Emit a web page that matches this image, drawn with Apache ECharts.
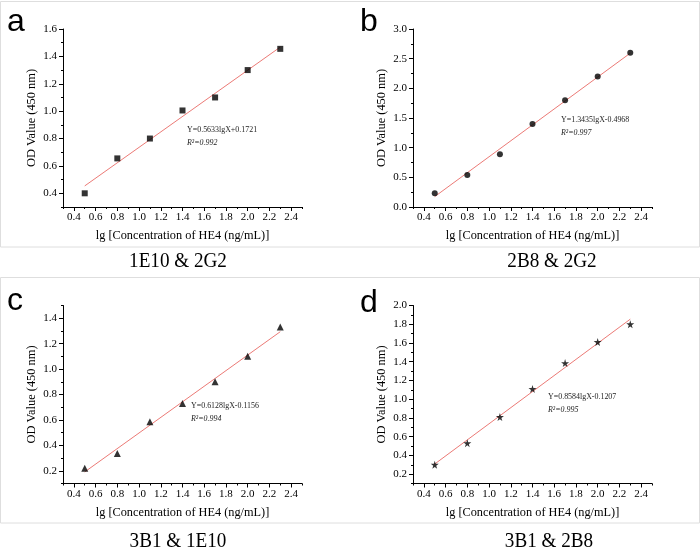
<!DOCTYPE html>
<html><head><meta charset="utf-8">
<script src="https://cdn.jsdelivr.net/npm/echarts@6/dist/echarts.min.js"></script>
<style>html,body{margin:0;padding:0;background:#fff}#c{width:700px;height:550px}</style>
</head><body><div id="c"></div>
<script>
// ---- data ----
const xValues = [0.5, 0.8, 1.1, 1.4, 1.7, 2.0, 2.3];
const odA = [0.40, 0.655, 0.80, 1.005, 1.10, 1.30, 1.455];
const odB = [0.23, 0.54, 0.89, 1.40, 1.80, 2.20, 2.60];
const odC = [0.22, 0.335, 0.585, 0.73, 0.90, 1.10, 1.33];
const odD = [0.30, 0.53, 0.81, 1.11, 1.385, 1.61, 1.80];
const fitX = [0.5, 2.3];
const fitA = [0.454, 1.468];
const fitB = [0.175, 2.593];
const fitC = [0.191, 1.294];
const fitD = [0.308, 1.854];
const xTicks = [0.4, 0.6, 0.8, 1.0, 1.2, 1.4, 1.6, 1.8, 2.0, 2.2, 2.4];
const xMinorTicks = [0.3, 0.5, 0.7, 0.9, 1.1, 1.3, 1.5, 1.7, 1.9, 2.1, 2.3, 2.5];
const yTicksA = [0.4, 0.6, 0.8, 1.0, 1.2, 1.4, 1.6];
const yMinorA = [0.3, 0.5, 0.7, 0.9, 1.1, 1.3, 1.5];
const yTicksB = [0.0, 0.5, 1.0, 1.5, 2.0, 2.5, 3.0];
const yMinorB = [0.25, 0.75, 1.25, 1.75, 2.25, 2.75];
const yTicksC = [0.2, 0.4, 0.6, 0.8, 1.0, 1.2, 1.4];
const yMinorC = [0.1, 0.3, 0.5, 0.7, 0.9, 1.1, 1.3, 1.5];
const yTicksD = [0.2, 0.4, 0.6, 0.8, 1.0, 1.2, 1.4, 1.6, 1.8, 2.0];
const yMinorD = [0.1, 0.3, 0.5, 0.7, 0.9, 1.1, 1.3, 1.5, 1.7, 1.9];
const letters = ['a', 'b', 'c', 'd'];
const captions = ['1E10 & 2G2', '2B8 & 2G2', '3B1 & 1E10', '3B1 & 2B8'];
const equations = ['Y=0.5633lgX+0.1721', 'Y=1.3435lgX-0.4968', 'Y=0.6128lgX-0.1156', 'Y=0.8584lgX-0.1207'];
const r2Values = ['0.992', '0.997', '0.994', '0.995'];
const xName = 'lg [Concentration of HE4 (ng/mL)]';
const yName = 'OD Value (450 nm)';

// ---- layout / style ----
const SERIF = "'Liberation Serif', 'Times New Roman', serif";
const SANS = "'Liberation Sans', Arial, sans-serif";
const STAR = 'path://M50,0 L61,35 L98,35 L68,57 L79,91 L50,70 L21,91 L32,57 L2,35 L39,35 Z';
const panels = [
  { od: odA, fit: fitA, yMin: 0.3, yMax: 1.6, yT: yTicksA, yM: yMinorA, sym: 'rect', size: 6, rect: { left: 63, top: 29, width: 239, height: 178 }, eq: [187, 130], letter: [7, 22], cap: [178, 261] },
  { od: odB, fit: fitB, yMin: 0.0, yMax: 3.0, yT: yTicksB, yM: yMinorB, sym: 'circle', size: 6, rect: { left: 413, top: 29, width: 239, height: 178 }, eq: [561, 120], letter: [360, 22], cap: [552, 261] },
  { od: odC, fit: fitC, yMin: 0.1, yMax: 1.5, yT: yTicksC, yM: yMinorC, sym: 'triangle', size: 7, rect: { left: 63, top: 305.5, width: 239, height: 178 }, eq: [191, 406], letter: [7, 301], cap: [178, 541] },
  { od: odD, fit: fitD, yMin: 0.1, yMax: 2.0, yT: yTicksD, yM: yMinorD, sym: STAR, size: 8, rect: { left: 413, top: 305.5, width: 239, height: 178 }, eq: [548, 397], letter: [360, 303], cap: [549, 541] }
];

const grid = [], xAxis = [], yAxis = [], series = [], graphic = [];
const black = { color: '#000', width: 1 };

graphic.push({ type: 'rect', shape: { x: 0.5, y: 1.5, width: 699, height: 245.5 }, style: { fill: 'none', stroke: '#dedede', lineWidth: 1 }, silent: true });
graphic.push({ type: 'rect', shape: { x: 0.5, y: 277.5, width: 699, height: 245.5 }, style: { fill: 'none', stroke: '#dedede', lineWidth: 1 }, silent: true });

panels.forEach((p, i) => {
  grid.push(Object.assign({ containLabel: false }, p.rect));
  xAxis.push({
    type: 'value', gridIndex: i, min: 0.3, max: 2.5,
    axisLine: { show: true, onZero: false, lineStyle: black },
    axisTick: { show: true, customValues: xTicks, length: 4, lineStyle: black },
    axisLabel: { customValues: xTicks, formatter: v => v.toFixed(1), fontFamily: SERIF, fontSize: 11, color: '#000', margin: 5 },
    splitLine: { show: false },
    name: xName, nameLocation: 'middle', nameGap: 23,
    nameTextStyle: { fontFamily: SERIF, fontSize: 12.3, color: '#000' }
  });
  yAxis.push({
    type: 'value', gridIndex: i, min: p.yMin, max: p.yMax,
    axisLine: { show: true, onZero: false, lineStyle: black },
    axisTick: { show: true, customValues: p.yT, length: 4, lineStyle: black },
    axisLabel: { customValues: p.yT, formatter: v => v.toFixed(1), fontFamily: SERIF, fontSize: 11, color: '#000', margin: 6 },
    splitLine: { show: false },
    name: yName, nameLocation: 'middle', nameGap: 25,
    nameTextStyle: { fontFamily: SERIF, fontSize: 12.4, color: '#000' }
  });
  series.push({
    type: 'line', xAxisIndex: i, yAxisIndex: i, symbol: 'none', silent: true, z: 2,
    data: fitX.map((x, k) => [x, p.fit[k]]),
    lineStyle: { color: '#ec7a76', width: 1 }
  });
  series.push({
    type: 'scatter', xAxisIndex: i, yAxisIndex: i, symbol: p.sym, symbolSize: p.size, z: 3,
    data: xValues.map((x, k) => [x, p.od[k]]),
    itemStyle: { color: '#000' }
  });
  graphic.push({ type: 'text', x: p.letter[0], y: p.letter[1], style: { text: letters[i], font: '32px ' + SANS, fill: '#000', textVerticalAlign: 'middle' } });
  graphic.push({ type: 'text', x: p.cap[0], y: p.cap[1], scaleX: 0.87, style: { text: captions[i], font: '22px ' + SERIF, fill: '#000', textAlign: 'center', textVerticalAlign: 'middle' } });
  graphic.push({ type: 'text', x: p.eq[0], y: p.eq[1], scaleX: 0.88, style: { text: equations[i], font: '9px ' + SERIF, fill: '#222', textVerticalAlign: 'middle' } });
  graphic.push({ type: 'text', x: p.eq[0], y: p.eq[1] + 12.5, scaleX: 0.88, style: { text: 'R²=' + r2Values[i], font: 'italic 9px ' + SERIF, fill: '#222', textVerticalAlign: 'middle' } });
});

panels.forEach((p, i) => {
  const gi = 4 + i;
  grid.push(Object.assign({ containLabel: false }, p.rect));
  xAxis.push({
    type: 'value', gridIndex: gi, min: 0.3, max: 2.5,
    axisLine: { show: false, onZero: false },
    axisTick: { show: true, customValues: xMinorTicks, length: 2, lineStyle: black },
    axisLabel: { show: false }, splitLine: { show: false }
  });
  yAxis.push({
    type: 'value', gridIndex: gi, min: p.yMin, max: p.yMax,
    axisLine: { show: false, onZero: false },
    axisTick: { show: true, customValues: p.yM, length: 2, lineStyle: black },
    axisLabel: { show: false }, splitLine: { show: false }
  });
});

const chart = echarts.init(document.getElementById('c'), null, { renderer: 'canvas' });
chart.setOption({ backgroundColor: '#fff', animation: false, grid, xAxis, yAxis, series, graphic });
</script>
</body></html>
